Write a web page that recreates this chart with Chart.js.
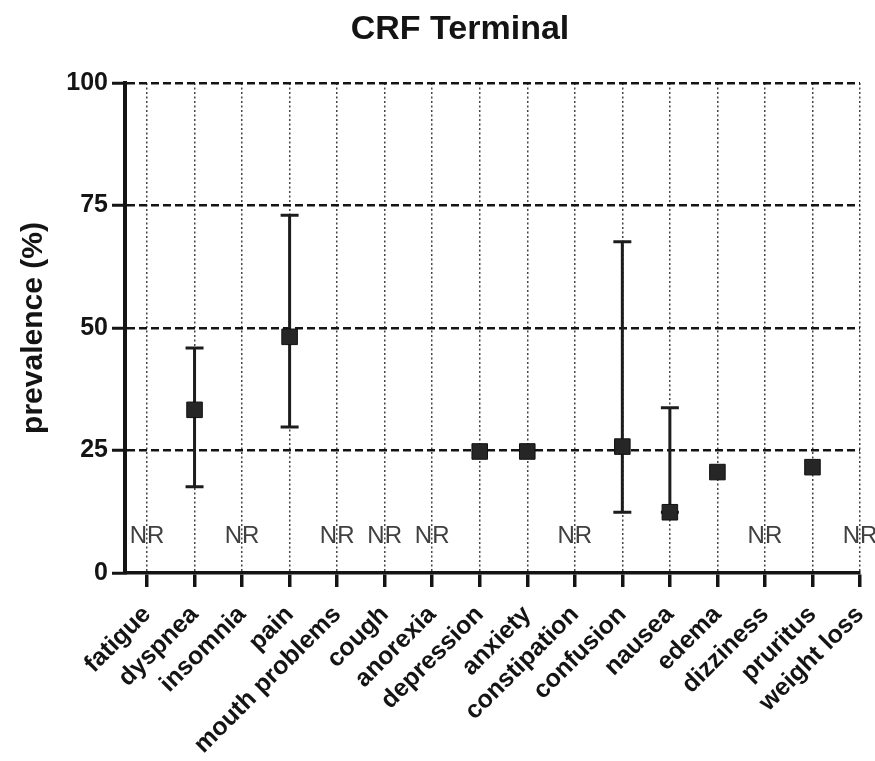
<!DOCTYPE html>
<html>
<head>
<meta charset="utf-8">
<script src="https://cdn.jsdelivr.net/npm/chart.js@4.4.1/dist/chart.umd.min.js"></script>
<style>
  body { margin: 0; background: #fff; }
  canvas { display: block; }
</style>
</head>
<body>
<canvas id="crf" width="875" height="761"></canvas>
<script>
// ── CRF Terminal: prevalencia de síntomas con rango ──────────────────────────

const symptoms = [
    "fatigue", "dyspnea", "insomnia", "pain", "mouth problems", "cough",
    "anorexia", "depression", "anxiety", "constipation", "confusion",
    "nausea", "edema", "dizziness", "pruritus", "weight loss",
];
// null = NR (not reported)
const prevalence = [null, 33.3, null, 48.2, null, null, null, 24.8, 24.8, null, 25.8, 12.4, 20.6, null, 21.6, null];
const rangeLow   = [null, 17.6, null, 29.8, null, null, null, null, null, null, 12.4, 12.4, null, null, null, null];
const rangeHigh  = [null, 45.9, null, 73.0, null, null, null, null, null, null, 67.6, 33.7, null, null, null, null];
const nrLevel = 7.5;
const yTicks = [0, 25, 50, 75, 100];

const FONT = "'Liberation Sans', Arial, sans-serif";
const INK = "#141414";

const errorBars = {
    id: "errorBars",
    beforeDatasetsDraw(chart) {
        const { ctx, scales: { x, y } } = chart;
        ctx.save();
        ctx.strokeStyle = "#1c1c1c";
        ctx.lineWidth = 3;
        symptoms.forEach((_, i) => {
            if (rangeLow[i] === null || rangeHigh[i] === null) return;
            const px = x.getPixelForValue(i);
            const lo = y.getPixelForValue(rangeLow[i]);
            const hi = y.getPixelForValue(rangeHigh[i]);
            ctx.beginPath();
            ctx.moveTo(px, lo);
            ctx.lineTo(px, hi);
            ctx.moveTo(px - 9, lo);
            ctx.lineTo(px + 9, lo);
            ctx.moveTo(px - 9, hi);
            ctx.lineTo(px + 9, hi);
            ctx.stroke();
        });
        ctx.restore();
    },
};

const nrLabels = {
    id: "nrLabels",
    afterDatasetsDraw(chart) {
        const { ctx, scales: { x, y } } = chart;
        ctx.save();
        ctx.font = "24px " + FONT;
        ctx.fillStyle = "#404040";
        ctx.textAlign = "center";
        ctx.textBaseline = "middle";
        symptoms.forEach((_, i) => {
            if (prevalence[i] !== null) return;
            ctx.fillText("NR", x.getPixelForValue(i), y.getPixelForValue(nrLevel));
        });
        ctx.restore();
    },
};

const titleText = {
    id: "titleText",
    afterDraw(chart) {
        const { ctx } = chart;
        ctx.save();
        ctx.font = "bold 34px " + FONT;
        ctx.fillStyle = INK;
        ctx.textAlign = "center";
        ctx.textBaseline = "alphabetic";
        ctx.fillText("CRF Terminal", 460, 39);
        ctx.restore();
    },
};

new Chart(document.getElementById("crf"), {
    type: "scatter",
    data: {
        datasets: [
            {
                label: "prevalence",
                data: prevalence
                    .map((v, i) => (v === null ? null : { x: i, y: v }))
                    .filter((p) => p !== null),
                pointStyle: "rect",
                pointRadius: 11,
                backgroundColor: "#262626",
                borderColor: "#111",
                borderWidth: 1,
            },
        ],
    },
    options: {
        responsive: false,
        animation: false,
        layout: { padding: { top: 83, right: 15, bottom: 0, left: 0 } },
        plugins: {
            legend: { display: false },
            tooltip: { enabled: false },
        },
        scales: {
            x: {
                type: "linear",
                min: -0.463,
                max: 15,
                afterBuildTicks: (scale) => {
                    scale.ticks = symptoms.map((_, i) => ({ value: i }));
                },
                afterFit: (scale) => {
                    scale.height = 188;
                    scale.paddingLeft = 0;
                    scale.paddingRight = 0;
                },
                grid: {
                    color: "#444",
                    lineWidth: 1.5,
                    tickColor: INK,
                    tickWidth: 3.5,
                    tickLength: 14,
                },
                border: { color: INK, width: 3.5, dash: [2, 2.5] },
                ticks: {
                    autoSkip: false,
                    maxRotation: 45,
                    minRotation: 45,
                    padding: 13,
                    color: INK,
                    font: { family: FONT, size: 25, weight: "bold" },
                    callback: (value) => symptoms[value],
                },
            },
            y: {
                min: 0,
                max: 100,
                afterBuildTicks: (scale) => {
                    scale.ticks = yTicks.map((v) => ({ value: v }));
                },
                afterFit: (scale) => {
                    scale.width = 125;
                },
                grid: {
                    color: (c) => (c.tick && c.tick.value === 0 ? "rgba(0,0,0,0)" : INK),
                    lineWidth: 2.5,
                    tickColor: INK,
                    tickWidth: 3,
                    tickLength: 13,
                },
                border: { color: INK, width: 4, dash: [8, 4] },
                ticks: {
                    padding: 4,
                    color: INK,
                    font: { family: FONT, size: 25, weight: "bold" },
                },
                title: {
                    display: true,
                    text: "prevalence (%)",
                    color: INK,
                    font: { family: FONT, size: 30, weight: "bold" },
                    padding: { top: 16, bottom: 0 },
                },
            },
        },
    },
    plugins: [errorBars, nrLabels, titleText],
});
</script>
</body>
</html>
